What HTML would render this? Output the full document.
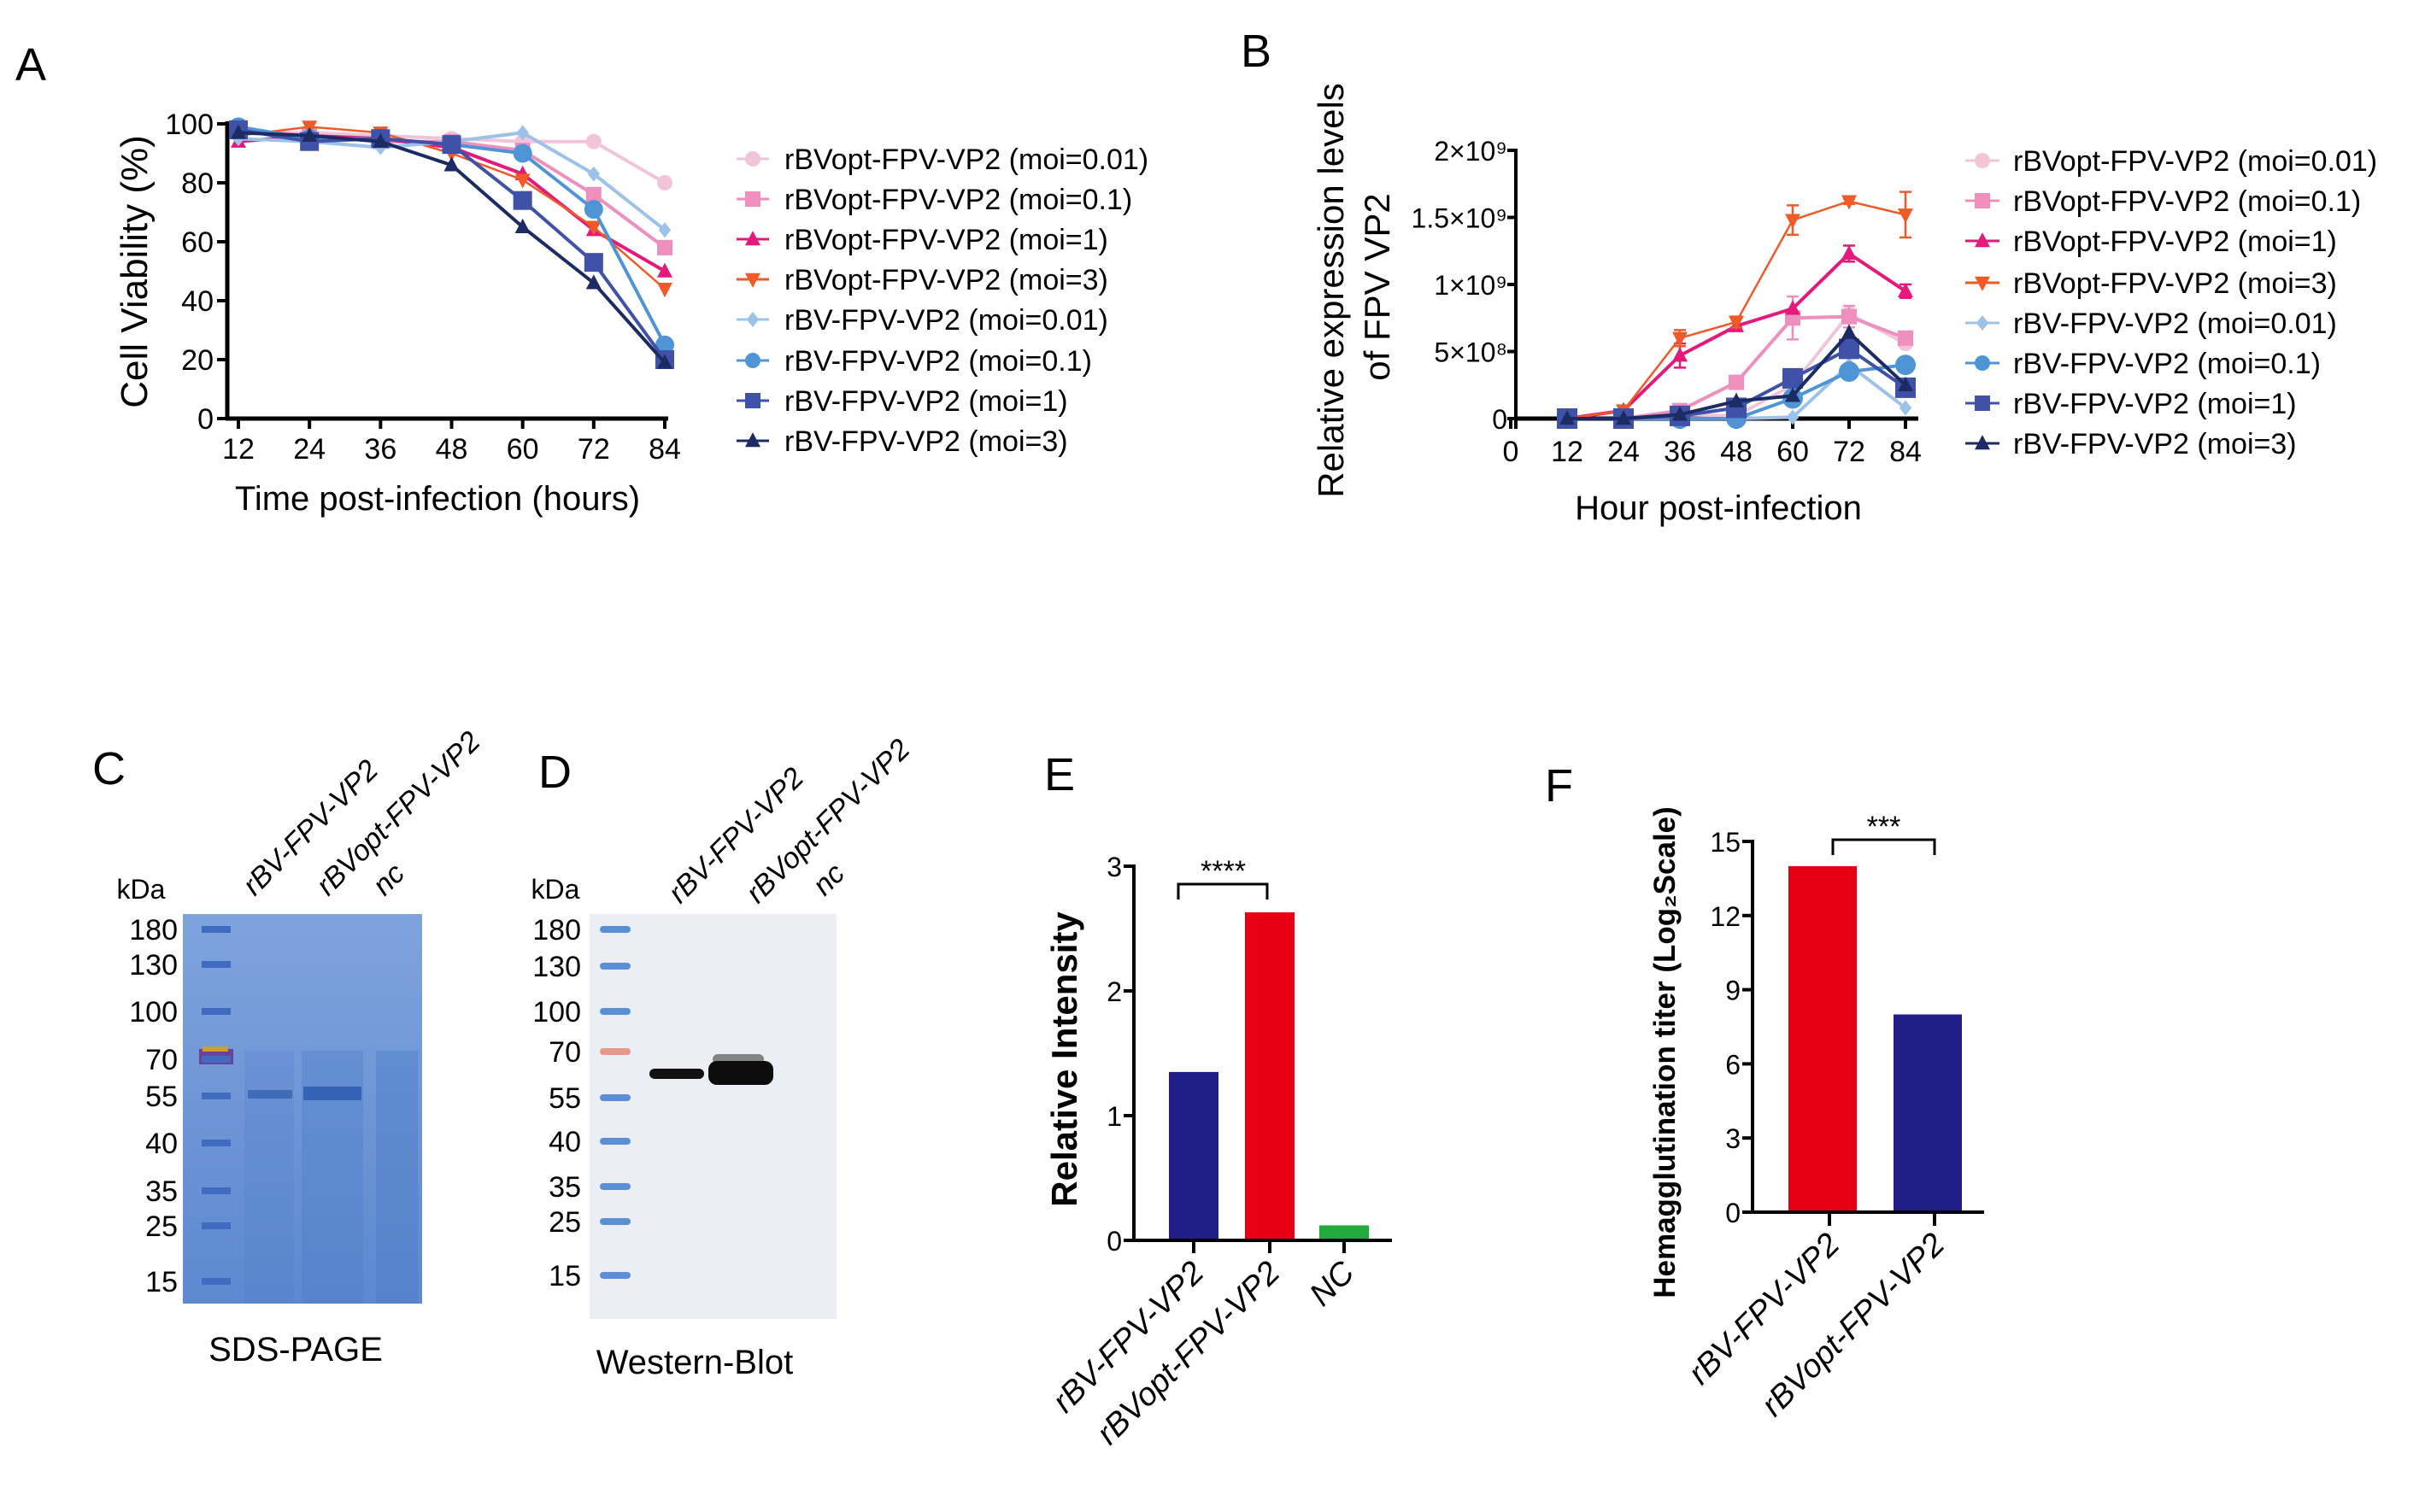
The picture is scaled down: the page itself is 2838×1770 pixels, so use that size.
<!DOCTYPE html>
<html><head><meta charset="utf-8"><style>
html,body{margin:0;padding:0;background:#fff;}
svg{display:block;font-family:"Liberation Sans Narrow","Liberation Sans",sans-serif;}
.b{font-family:"Liberation Sans",sans-serif;}
</style></head><body>
<svg id="fig" width="2838" height="1770" viewBox="0 0 2838 1770" xmlns="http://www.w3.org/2000/svg">
<defs>
<linearGradient id="gelg" x1="0" y1="0" x2="0" y2="1"><stop offset="0" stop-color="#7fa3dc"/><stop offset="1" stop-color="#5d88d0"/></linearGradient>
</defs>
<g font-family="Liberation Sans, sans-serif" font-size="54">
<text x="18" y="94">A</text>
<text x="1452" y="78">B</text>
<text x="108" y="918">C</text>
<text x="630" y="922">D</text>
<text x="1222" y="925">E</text>
<text x="1808" y="938">F</text>
</g>
<g id="pa"></g>
<g id="pb"></g>
<g id="pc"></g>
<g id="pd"></g>
<g id="pe"></g>
<g id="pf"></g>
</svg>
<script>
// ---------- data ----------
const hoursA = [12,24,36,48,60,72,84];
const yTicksA = [0,20,40,60,80,100];
const seriesNames = ["rBVopt-FPV-VP2 (moi=0.01)","rBVopt-FPV-VP2 (moi=0.1)","rBVopt-FPV-VP2 (moi=1)","rBVopt-FPV-VP2 (moi=3)","rBV-FPV-VP2  (moi=0.01)","rBV-FPV-VP2  (moi=0.1)","rBV-FPV-VP2  (moi=1)","rBV-FPV-VP2  (moi=3)"];
const viabOpt001 = [97,97,96,95,94,94,80];
const viabOpt01  = [98,96,94,94,91,76,58];
const viabOpt1   = [94,96,95,92,83,64,50];
const viabOpt3   = [96,99,97,90,81,65,44];
const viabBV001  = [95,94,92,94,97,83,64];
const viabBV01   = [99,95,95,93,90,71,25];
const viabBV1    = [98,94,95,93,74,53,20];
const viabBV3    = [97,96,94,86,65,46,19];

const hoursB = [12,24,36,48,60,72,84];
const xTicksB = [0,12,24,36,48,60,72,84];
const yTicksB = [0,5e8,1e9,1.5e9,2e9];
const yTickLabelsB = ["0","5×10⁸","1×10⁹","1.5×10⁹","2×10⁹"];
const exprOpt001 = [0,0,0.3e8,0.2e8,2.5e8,7.8e8,5.6e8];
const exprOpt01  = [0,0,0.6e8,2.7e8,7.5e8,7.6e8,6.0e8];
const exprOpt1   = [0,0.6e8,4.7e8,6.9e8,8.2e8,12.3e8,9.5e8];
const exprOpt3   = [0,0.6e8,6.0e8,7.2e8,14.8e8,16.2e8,15.2e8];
const exprBV001  = [0,0,0,0,0.1e8,4.0e8,0.8e8];
const exprBV01   = [0,0,0,0,1.5e8,3.5e8,4.0e8];
const exprBV1    = [0,0,0.2e8,0.8e8,3.0e8,5.2e8,2.3e8];
const exprBV3    = [0,0,0.3e8,1.3e8,1.7e8,6.4e8,2.5e8];
const errOpt01   = [0,0,0,0,1.6e8,0.8e8,0.4e8];
const errOpt1    = [0,0,0.9e8,0,0,0.6e8,0.5e8];
const errOpt3    = [0,0,0.6e8,0.4e8,1.1e8,0.2e8,1.7e8];

const mwLabels = ["180","130","100","70","55","40","35","25","15"];
const laneLabels = ["rBV-FPV-VP2","rBVopt-FPV-VP2","nc"];

const catsE = ["rBV-FPV-VP2","rBVopt-FPV-VP2","NC"];
const valsE = [1.35,2.63,0.12];
const yTicksE = [0,1,2,3];
const catsF = ["rBV-FPV-VP2","rBVopt-FPV-VP2"];
const valsF = [14,8];
const yTicksF = [0,3,6,9,12,15];

const colors = ["#f2c4da","#ef8fbe","#e5187b","#ef5a28","#9cc2e8","#4f95d6","#3f52a8","#1c2b63"];
const shapes = ["circle","square","tri","trid","diamond","circle","square","tri"];

// ---------- helpers ----------
const NS="http://www.w3.org/2000/svg";
function mk(parent,tag,attrs,text){const e=document.createElementNS(NS,tag);for(const k in attrs)e.setAttribute(k,attrs[k]);if(text!==undefined)e.textContent=text;parent.appendChild(e);return e;}
function marker(g,shape,x,y,r,c){
  let e;
  if(shape==="circle") e=mk(g,"circle",{cx:x,cy:y,r:r,fill:c});
  else if(shape==="square") e=mk(g,"rect",{x:x-r,y:y-r,width:2*r,height:2*r,fill:c});
  else if(shape==="tri") e=mk(g,"polygon",{points:`${x},${y-r*1.1} ${x+r},${y+r*0.8} ${x-r},${y+r*0.8}`,fill:c});
  else if(shape==="trid") e=mk(g,"polygon",{points:`${x},${y+r*1.1} ${x+r},${y-r*0.8} ${x-r},${y-r*0.8}`,fill:c});
  else e=mk(g,"polygon",{points:`${x},${y-r} ${x+r*0.8},${y} ${x},${y+r} ${x-r*0.8},${y}`,fill:c});
  return e;
}

// ---------- Panel A ----------
(function(){
  const g=document.getElementById("pa");
  const x0=266,x1=782,yTop=145,yBot=490;
  const xs=h=>279+(h-12)*(778-279)/72;
  const ys=v=>yBot-(v/100)*(yBot-yTop);
  const data=[viabOpt001,viabOpt01,viabOpt1,viabOpt3,viabBV001,viabBV01,viabBV1,viabBV3];
  const yax=mk(g,"line",{x1:x0,y1:yTop-3,x2:x0,y2:yBot,stroke:"#000","stroke-width":5});
  
  
  const xax=mk(g,"line",{x1:x0-2,y1:yBot,x2:x1,y2:yBot,stroke:"#000","stroke-width":5});
  
  
  yTicksA.forEach(v=>{
    mk(g,"line",{x1:x0-12,y1:ys(v),x2:x0,y2:ys(v),stroke:"#000","stroke-width":4});
    const t=mk(g,"text",{x:x0-16,y:ys(v)+12,"text-anchor":"end","font-size":34},String(v));
    
    
  });
  hoursA.forEach(h=>{
    mk(g,"line",{x1:xs(h),y1:yBot,x2:xs(h),y2:yBot+12,stroke:"#000","stroke-width":4});
    const t=mk(g,"text",{x:xs(h),y:537,"text-anchor":"middle","font-size":34},String(h));
    
    
  });
  const xt=mk(g,"text",{x:512,y:597,"text-anchor":"middle","font-size":40},"Time post-infection (hours)");
  
  
  const yt=mk(g,"text",{x:0,y:0,"text-anchor":"middle","font-size":44,class:"b",transform:"translate(172,318) rotate(-90)"},"Cell Viability (%)");
  
  
  data.forEach((d,i)=>{
    const sg=mk(g,"g",{});
    
    
    const pts=d.map((v,j)=>xs(hoursA[j])+","+ys(v)).join(" ");
    const pl=mk(sg,"polyline",{points:pts,fill:"none",stroke:colors[i],"stroke-width":(i===3?2.5:4)});
    
    
    d.forEach((v,j)=>{
      const m=marker(sg,shapes[i],xs(hoursA[j]),ys(v),i===5||i===6?11:9,colors[i]);
      
      
    });
  });
  const ly=[186,233,280,327,374,422,469,516];
  seriesNames.forEach((n,i)=>{
    const lg=mk(g,"g",{});
    
    
    mk(lg,"line",{x1:862,y1:ly[i],x2:900,y2:ly[i],stroke:colors[i],"stroke-width":3});
    marker(lg,shapes[i],881,ly[i],9,colors[i]);
    mk(lg,"text",{x:918,y:ly[i]+12,"font-size":34,"xml:space":"preserve"},n);
  });
})();

// ---------- Panel B ----------
(function(){
  const g=document.getElementById("pb");
  const x0=1774,x1=2245,yTop=176,yBot=490;
  const xs=h=>1768+h*(2230-1768)/84;
  const ys=v=>yBot-(v/2e9)*(yBot-yTop);
  const data=[exprOpt001,exprOpt01,exprOpt1,exprOpt3,exprBV001,exprBV01,exprBV1,exprBV3];
  const errs={1:errOpt01,2:errOpt1,3:errOpt3};
  const yax=mk(g,"line",{x1:x0,y1:yTop-2,x2:x0,y2:yBot+12,stroke:"#000","stroke-width":4});
  
  
  const xax=mk(g,"line",{x1:x0,y1:yBot,x2:x1,y2:yBot,stroke:"#000","stroke-width":5});
  
  
  yTicksB.forEach((v,i)=>{
    mk(g,"line",{x1:x0-10,y1:ys(v),x2:x0,y2:ys(v),stroke:"#000","stroke-width":4});
    const t=mk(g,"text",{x:x0-10,y:ys(v)+12,"text-anchor":"end","font-size":32},yTickLabelsB[i]);
    
    
  });
  xTicksB.forEach(h=>{
    mk(g,"line",{x1:xs(h),y1:yBot,x2:xs(h),y2:yBot+12,stroke:"#000","stroke-width":4});
    const t=mk(g,"text",{x:xs(h),y:540,"text-anchor":"middle","font-size":34},String(h));
    
    
  });
  const xt=mk(g,"text",{x:2011,y:608,"text-anchor":"middle","font-size":40},"Hour post-infection");
  
  
  const yt=mk(g,"text",{x:0,y:0,"text-anchor":"middle","font-size":42,class:"b",transform:"translate(1572,340) rotate(-90)"},"Relative expression levels");
  
  
  const yt2=mk(g,"text",{x:0,y:0,"text-anchor":"middle","font-size":42,class:"b",transform:"translate(1626,336) rotate(-90)"},"of FPV VP2");
  
  
  data.forEach((d,i)=>{
    const sg=mk(g,"g",{});
    
    
    const pts=d.map((v,j)=>xs(hoursB[j])+","+ys(v)).join(" ");
    const pl=mk(sg,"polyline",{points:pts,fill:"none",stroke:colors[i],"stroke-width":(i===3?2.5:4)});
    
    
    if(errs[i]) errs[i].forEach((e,j)=>{ if(e>0){
      const x=xs(hoursB[j]);
      const eb=mk(sg,"path",{d:`M${x},${ys(d[j]-e)}V${ys(d[j]+e)}M${x-7},${ys(d[j]-e)}h14M${x-7},${ys(d[j]+e)}h14`,stroke:colors[i],"stroke-width":2.5,fill:"none"});
      
      
    }});
    d.forEach((v,j)=>{
      const m=marker(sg,shapes[i],xs(hoursB[j]),ys(v),i===5||i===6?12:9,colors[i]);
      
      
    });
  });
  const ly=[188,235,282,331,378,425,472,519];
  seriesNames.forEach((n,i)=>{
    const lg=mk(g,"g",{});
    
    
    mk(lg,"line",{x1:2300,y1:ly[i],x2:2340,y2:ly[i],stroke:colors[i],"stroke-width":3});
    marker(lg,shapes[i],2320,ly[i],9,colors[i]);
    mk(lg,"text",{x:2356,y:ly[i]+12,"font-size":34,"xml:space":"preserve"},n);
  });
})();

// ---------- Panels C & D ----------
const mwYc=[1088,1129,1184,1240,1283,1338,1394,1435,1500];
const mwYd=[1088,1131,1184,1231,1285,1336,1389,1430,1493];
(function(){
  const g=document.getElementById("pc");
  const gel=mk(g,"rect",{x:214,y:1070,width:280,height:456,fill:"url(#gelg)"});
  
  
  [[286,344],[353,425],[440,489]].forEach((l,i)=>{
    const r=mk(g,"rect",{x:l[0],y:1230,width:l[1]-l[0],height:296,fill:"#4e7cc8",opacity:0.25+i*0.1});
    
    
  });
  mk(g,"rect",{x:290,y:1276,width:52,height:10,fill:"#3f6bb8"});
  mk(g,"rect",{x:355,y:1272,width:68,height:16,fill:"#3463b5"});
  mk(g,"rect",{x:233,y:1228,width:40,height:18,fill:"#6a2a8a",opacity:0.8});
  mk(g,"rect",{x:237,y:1225,width:30,height:6,fill:"#c8a030"});
  mwLabels.forEach((m,i)=>{
    mk(g,"rect",{x:236,y:mwYc[i]-4,width:34,height:8,fill:"#3f6cc0"});
    const t=mk(g,"text",{x:208,y:mwYc[i]+12,"text-anchor":"end","font-size":34},m);
    
    
  });
  const k=mk(g,"text",{x:165,y:1052,"text-anchor":"middle","font-size":32},"kDa");
  
  
  [[298,1050],[384,1050],[450,1050]].forEach((p,i)=>{
    const t=mk(g,"text",{x:0,y:0,"font-size":34,"font-style":"italic",class:"b",transform:`translate(${p[0]},${p[1]}) rotate(-45)`},laneLabels[i]);
    
    
  });
  const c=mk(g,"text",{x:346,y:1593,"text-anchor":"middle","font-size":40},"SDS-PAGE");
  
  
})();
(function(){
  const g=document.getElementById("pd");
  const b=mk(g,"rect",{x:690,y:1070,width:289,height:474,fill:"#eceef6"});
  
  
  mwLabels.forEach((m,i)=>{
    mk(g,"rect",{x:702,y:mwYd[i]-4,width:36,height:8,rx:4,fill:i===3?"#e8988a":"#5a8fd6"});
    const t=mk(g,"text",{x:680,y:mwYd[i]+12,"text-anchor":"end","font-size":34},m);
    
    
  });
  const b1=mk(g,"rect",{x:760,y:1251,width:64,height:12,rx:6,fill:"#111"});
  
  
  mk(g,"rect",{x:834,y:1234,width:60,height:12,rx:6,fill:"#555",opacity:0.7});
  const b2=mk(g,"rect",{x:829,y:1242,width:76,height:28,rx:10,fill:"#0c0c0c"});
  
  
  const k=mk(g,"text",{x:650,y:1052,"text-anchor":"middle","font-size":32},"kDa");
  
  
  [[796,1059],[887,1059],[965,1050]].forEach((p,i)=>{
    const t=mk(g,"text",{x:0,y:0,"font-size":34,"font-style":"italic",class:"b",transform:`translate(${p[0]},${p[1]}) rotate(-45)`},laneLabels[i]);
    
    
  });
  const c=mk(g,"text",{x:813,y:1608,"text-anchor":"middle","font-size":40},"Western-Blot");
  
  
})();

// ---------- Panel E ----------
(function(){
  const g=document.getElementById("pe");
  const x0=1327,x1=1629,yBot=1452,yTop=1014;
  const ys=v=>yBot-(v/3)*(yBot-yTop);
  const xc=[1397,1486,1573];
  const barW=58;
  const barC=["#1f1f87","#e60012","#22aa3c"];
  catsE.forEach((c,i)=>{
    const r=mk(g,"rect",{x:xc[i]-barW/2,y:ys(valsE[i]),width:barW,height:yBot-ys(valsE[i]),fill:barC[i]});
    
    
    mk(g,"line",{x1:xc[i],y1:yBot,x2:xc[i],y2:yBot+15,stroke:"#000","stroke-width":4});
    const t=mk(g,"text",{x:0,y:0,"text-anchor":"end","font-size":38,"font-style":"italic",class:"b",transform:`translate(${xc[i]+14},${yBot+40}) rotate(-45)`},c);
    
    
  });
  const yax=mk(g,"line",{x1:x0,y1:yTop-2,x2:x0,y2:yBot+2,stroke:"#000","stroke-width":4});
  
  
  const xax=mk(g,"line",{x1:x0-10,y1:yBot,x2:x1,y2:yBot,stroke:"#000","stroke-width":4});
  
  
  yTicksE.forEach(v=>{
    mk(g,"line",{x1:x0-12,y1:ys(v),x2:x0,y2:ys(v),stroke:"#000","stroke-width":4});
    const t=mk(g,"text",{x:x0-14,y:ys(v)+12,"text-anchor":"end","font-size":32},String(v));
    
    
  });
  const yt=mk(g,"text",{x:0,y:0,"text-anchor":"middle","font-size":42,"font-weight":"bold",class:"b",transform:"translate(1260,1240) rotate(-90)"},"Relative Intensity");
  
  
  const top=ys(Math.max(valsE[0],valsE[1]))-33;
  const br=mk(g,"path",{d:`M${xc[0]-18},${top+18}V${top}H${xc[1]-3}V${top+18}`,stroke:"#000","stroke-width":3,fill:"none"});
  
  
  const st=mk(g,"text",{x:(xc[0]+xc[1])/2-10,y:top-4,"text-anchor":"middle","font-size":34,class:"b"},"****");
  
  
})();

// ---------- Panel F ----------
(function(){
  const g=document.getElementById("pf");
  const x0=2051,x1=2322,yBot=1419,yTop=985;
  const ys=v=>yBot-(v/15)*(yBot-yTop);
  const xc=[2133,2256];
  const barW=80;
  const barC=["#e60012","#1f1f87"];
  catsF.forEach((c,i)=>{
    const r=mk(g,"rect",{x:xc[i]-barW/2,y:ys(valsF[i]),width:barW,height:yBot-ys(valsF[i]),fill:barC[i]});
    
    
    mk(g,"line",{x1:xc[i]+8,y1:yBot,x2:xc[i]+8,y2:yBot+16,stroke:"#000","stroke-width":4});
    const t=mk(g,"text",{x:0,y:0,"text-anchor":"end","font-size":38,"font-style":"italic",class:"b",transform:`translate(${xc[i]+22},${yBot+40}) rotate(-45)`},c);
    
    
  });
  const yax=mk(g,"line",{x1:x0,y1:yTop-2,x2:x0,y2:yBot+2,stroke:"#000","stroke-width":4});
  
  
  const xax=mk(g,"line",{x1:x0-10,y1:yBot,x2:x1,y2:yBot,stroke:"#000","stroke-width":4});
  
  
  yTicksF.forEach(v=>{
    mk(g,"line",{x1:x0-12,y1:ys(v),x2:x0,y2:ys(v),stroke:"#000","stroke-width":4});
    const t=mk(g,"text",{x:x0-14,y:ys(v)+12,"text-anchor":"end","font-size":32},String(v));
    
    
  });
  const yt=mk(g,"text",{x:0,y:0,"text-anchor":"middle","font-size":35,"font-weight":"bold",class:"b",transform:"translate(1960,1232) rotate(-90)"},"Hemagglutination titer (Log₂Scale)");
  
  
  const top=ys(15)-2;
  const br=mk(g,"path",{d:`M${xc[0]+12},${top+18}V${top}H${xc[1]+8}V${top+18}`,stroke:"#000","stroke-width":3,fill:"none"});
  
  
  const st=mk(g,"text",{x:(xc[0]+xc[1])/2+10,y:top-4,"text-anchor":"middle","font-size":34,class:"b"},"***");
  
  
})();
</script>
</body></html>
